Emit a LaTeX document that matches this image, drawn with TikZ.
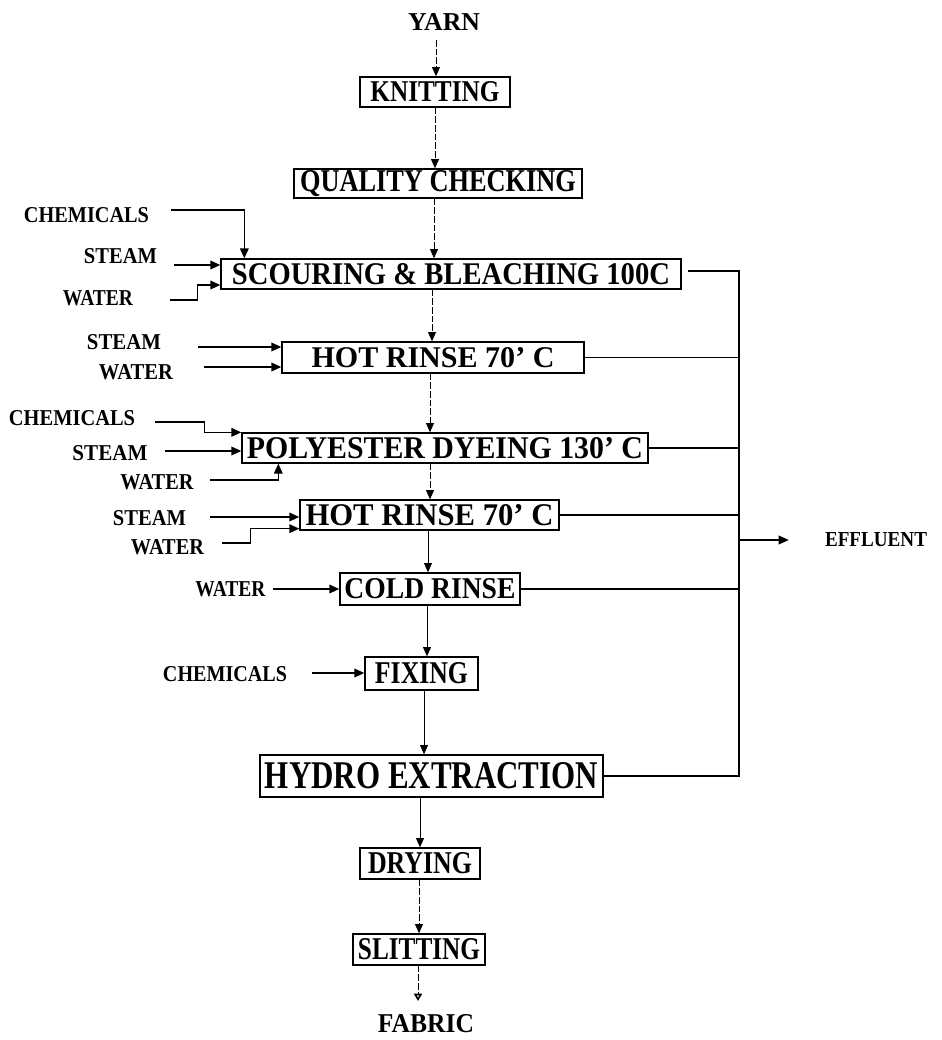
\documentclass[tikz,border=0pt]{standalone}
\usepackage{fontspec}
\setmainfont{Liberation Serif}
\usepackage{graphicx}
\usetikzlibrary{arrows.meta,calc}
\newdimen\pxu \pxu=0.75pt
\newcommand{\fit}[3]{\resizebox{#1\pxu}{#2\pxu}{\bfseries #3}}
\tikzset{
  box/.style={draw, line width=1pt, inner sep=0pt, rectangle},
  lbl/.style={inner sep=0pt},
  feed/.style={line width=1.1pt, -{Triangle[length=7.5pt,width=6.5pt]}},
  flow/.style={line width=0.7pt, -{Triangle[length=7pt,width=6pt]}},
  flowd/.style={flow, dash pattern=on 5pt off 1.5pt},
  eff/.style={line width=1.1pt},
}
\begin{document}
\begin{tikzpicture}[x=0.75pt,y=-0.75pt]
\useasboundingbox (0,0) rectangle (942,1040);
% main boxes
\node[box, minimum width=150*\pxu, minimum height=30*\pxu] (kn) at (435,92) {\fit{129}{20}{KNITTING}};
\node[box, minimum width=288*\pxu, minimum height=29*\pxu] (qc) at (438,183.5) {\fit{276}{21}{QUALITY CHECKING}};
\node[box, minimum width=460*\pxu, minimum height=30*\pxu] (sc) at (451,274) {\fit{438}{21}{SCOURING \& BLEACHING 100C}};
\node[box, minimum width=302*\pxu, minimum height=31*\pxu] (hr1) at (433,357.5) {\fit{243}{20}{HOT RINSE 70' C}};
\node[box, minimum width=406*\pxu, minimum height=30*\pxu] (pd) at (445,448) {\fit{396}{21}{POLYESTER DYEING 130' C}};
\node[box, minimum width=259*\pxu, minimum height=30*\pxu] (hr2) at (429.5,515) {\fit{248}{21}{HOT RINSE 70' C}};
\node[box, minimum width=180*\pxu, minimum height=32*\pxu] (cr) at (430,589) {\fit{171}{20}{COLD RINSE}};
\node[box, minimum width=113*\pxu, minimum height=33*\pxu] (fx) at (421.5,673.5) {\fit{93}{21}{FIXING}};
\node[box, minimum width=343*\pxu, minimum height=42*\pxu] (hx) at (431.5,776) {\fit{333}{26}{HYDRO EXTRACTION}};
\node[box, minimum width=120*\pxu, minimum height=31*\pxu] (dr) at (420,863.5) {\fit{104}{21}{DRYING}};
\node[box, minimum width=132*\pxu, minimum height=31*\pxu] (sl) at (419,949.5) {\fit{122}{21}{SLITTING}};
% end labels
\node[lbl] (yarn) at (444,21.5) {\fit{72}{17}{YARN}};
\node[lbl] (fabric) at (426,1024) {\fit{96}{18}{FABRIC}};
\node[lbl] (effl) at (876,540) {\fit{102}{14}{EFFLUENT}};
% side labels
\node[lbl] (chem1) at (86.5,215) {\fit{125}{15}{CHEMICALS}};
\node[lbl] (steam1) at (120.5,256) {\fit{73}{15}{STEAM}};
\node[lbl] (water1) at (98,298) {\fit{70}{15}{WATER}};
\node[lbl] (steam2) at (124,342) {\fit{74}{15}{STEAM}};
\node[lbl] (water2) at (136,372) {\fit{74}{15}{WATER}};
\node[lbl] (chem3) at (72,418) {\fit{126}{15}{CHEMICALS}};
\node[lbl] (steam3) at (110,453) {\fit{75}{15}{STEAM}};
\node[lbl] (water3) at (157,482) {\fit{73}{15}{WATER}};
\node[lbl] (steam4) at (149.5,518) {\fit{73}{15}{STEAM}};
\node[lbl] (water4) at (167.5,547) {\fit{73}{15}{WATER}};
\node[lbl] (water5) at (230.5,589) {\fit{70}{15}{WATER}};
\node[lbl] (chem4) at (225,674) {\fit{124}{15}{CHEMICALS}};
% main flow x positions
\coordinate (ys) at (436,40);
\coordinate (x2) at (435,0);
\coordinate (x3) at (434,0);
\coordinate (x4) at (432,0);
\coordinate (x5) at (430,0);
\coordinate (x7) at (428,0);
\coordinate (x8) at (427,0);
\coordinate (x9) at (424,0);
\coordinate (x10) at (420,0);
\coordinate (x11) at (419,0);
\coordinate (fend) at (418,1001);
\draw[flowd] (ys) -- (ys |- kn.north);
\draw[flowd] (x2 |- kn.south) -- (x2 |- qc.north);
\draw[flowd] (x3 |- qc.south) -- (x3 |- sc.north);
\draw[flowd] (x4 |- sc.south) -- (x4 |- hr1.north);
\draw[flowd] (x5 |- hr1.south) -- (x5 |- pd.north);
\draw[flowd] (x5 |- pd.south) -- (x5 |- hr2.north);
\draw[flow] (x7 |- hr2.south) -- (x7 |- cr.north);
\draw[flow] (x8 |- cr.south) -- (x8 |- fx.north);
\draw[flow] (x9 |- fx.south) -- (x9 |- hx.north);
\draw[flow] (x10 |- hx.south) -- (x10 |- dr.north);
\draw[flowd] (x11 |- dr.south) -- (x11 |- sl.north);
\draw[line width=0.7pt, dash pattern=on 5pt off 1.5pt, -{Triangle[open,length=5.5pt,width=6pt,line width=1.2pt]}] (fend |- sl.south) -- (fend);
% feeds: scouring
\draw[feed] ($(chem1.east)+(22,-5)$) -| ($(sc.north west)+(24,0)$);
\coordinate (s1) at ($(steam1.east)+(17,9)$);
\draw[feed] (s1) -- (s1 -| sc.west);
\draw[feed] ($(water1.east)+(37,2)$) -- ++(27,0) |- ($(sc.west)+(0,11)$);
% hot rinse 1
\coordinate (s2) at ($(steam2.east)+(37,5)$);
\draw[feed] (s2) -- (s2 -| hr1.west);
\coordinate (w2) at ($(water2.east)+(31,-5)$);
\draw[feed] (w2) -- (w2 -| hr1.west);
% polyester dyeing
\draw[feed] ($(chem3.east)+(20,4)$) -- ++(49,0) |- (pd.north west);
\coordinate (s3) at ($(steam3.east)+(17.5,-2)$);
\draw[feed] (s3) -- (s3 -| pd.west);
\draw[feed] ($(water3.east)+(16.5,-2)$) -| ($(pd.south west)+(37,0)$);
% hot rinse 2
\coordinate (s4) at ($(steam4.east)+(24,-1)$);
\draw[feed] (s4) -- (s4 -| hr2.west);
\draw[feed] ($(water4.east)+(18,-4)$) -- ++(28,0) |- ($(hr2.south west)+(0,-2)$);
% cold rinse, fixing
\coordinate (w5) at ($(water5.east)+(7,0)$);
\draw[feed] (w5) -- (w5 -| cr.west);
\coordinate (c4) at ($(chem4.east)+(25,-1)$);
\draw[feed] (c4) -- (c4 -| fx.west);
% effluent collector
\coordinate (col) at (739,0);
\coordinate (e1) at ($(sc.east)+(6,-3)$);
\draw[eff] (e1) -- (e1 -| col) -- (col |- hx.east) -- (hx.east);
\draw[eff] (hr1.east) -- (hr1.east -| col);
\draw[eff] (pd.east) -- (pd.east -| col);
\draw[eff] (hr2.east) -- (hr2.east -| col);
\draw[eff] (cr.east) -- (cr.east -| col);
\draw[feed] (col |- effl.west) -- ($(effl.west)+(-36,0)$);
\end{tikzpicture}
\end{document}
